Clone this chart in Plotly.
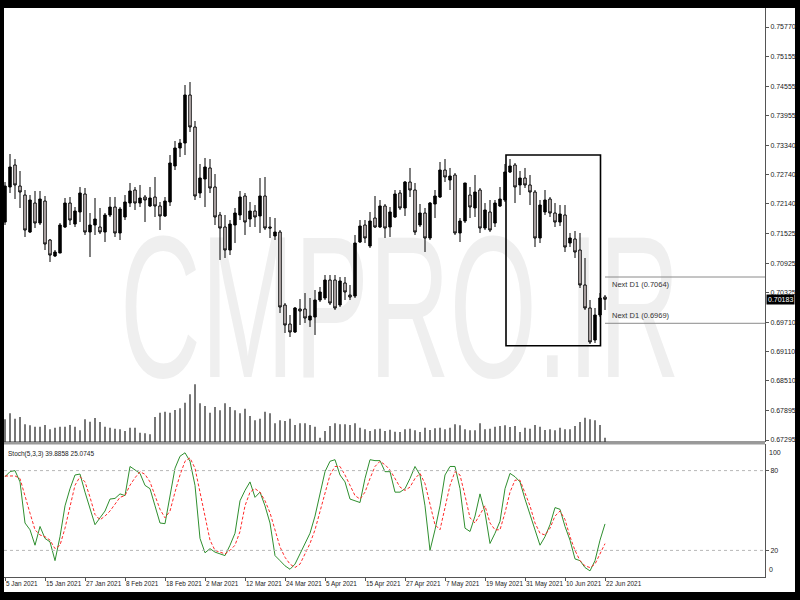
import plotly.graph_objects as go

# ---------------- data ----------------
date_labels = ["5 Jan 2021", "15 Jan 2021", "27 Jan 2021", "8 Feb 2021", "18 Feb 2021",
               "2 Mar 2021", "12 Mar 2021", "24 Mar 2021", "5 Apr 2021", "15 Apr 2021",
               "27 Apr 2021", "7 May 2021", "19 May 2021", "31 May 2021", "10 Jun 2021",
               "22 Jun 2021"]
date_label_bars = list(range(0, 121, 8))

opens = [0.71768, 0.72487, 0.72938, 0.72507, 0.72322, 0.71563, 0.72158, 0.71748, 0.72199, 0.71399,
         0.71071, 0.71132, 0.71666, 0.72158, 0.71727, 0.71974, 0.72343, 0.71563, 0.71707, 0.71666,
         0.71563, 0.71912, 0.72076, 0.71543, 0.71871, 0.72158, 0.72425, 0.72158, 0.72281, 0.72097,
         0.72281, 0.72097, 0.71892, 0.72179, 0.72918, 0.73287, 0.73389, 0.74375, 0.73718, 0.72363,
         0.72651, 0.72877, 0.72487, 0.71912, 0.71666, 0.71194, 0.71707, 0.71912, 0.72302, 0.71830,
         0.71994, 0.71892, 0.72302, 0.71666, 0.71481, 0.71563, 0.70065, 0.69675, 0.69511, 0.69983,
         0.69983, 0.69757, 0.69819, 0.70168, 0.70209, 0.70578, 0.70578, 0.70065, 0.70517, 0.70270,
         0.70250, 0.71358, 0.71707, 0.71276, 0.71850, 0.71666, 0.72097, 0.71666, 0.71871, 0.72363,
         0.72056, 0.72589, 0.72425, 0.71707, 0.71953, 0.71440, 0.72138, 0.72281, 0.72835, 0.72630,
         0.72733, 0.71543, 0.71789, 0.72322, 0.72056, 0.72425, 0.71645, 0.71974, 0.71748, 0.72097,
         0.72220, 0.72794, 0.72938, 0.72528, 0.72671, 0.72528, 0.72384, 0.71440, 0.71974, 0.72240,
         0.71953, 0.71768, 0.71912, 0.71337, 0.71420, 0.71194, 0.70476, 0.70004, 0.69347, 0.69860,
         0.70229]
highs = [0.72589, 0.73164, 0.73061, 0.72815, 0.72425, 0.72322, 0.72405, 0.72405, 0.72302, 0.71420,
         0.71194, 0.71748, 0.72261, 0.72281, 0.72076, 0.72487, 0.72466, 0.71953, 0.72261, 0.72056,
         0.71953, 0.72281, 0.72281, 0.72076, 0.72322, 0.72569, 0.72487, 0.72528, 0.72322, 0.72487,
         0.72692, 0.72179, 0.72281, 0.73143, 0.73431, 0.73472, 0.74580, 0.74641, 0.73841, 0.72959,
         0.73082, 0.73061, 0.72753, 0.71974, 0.71912, 0.71809, 0.72056, 0.72405, 0.72363, 0.72179,
         0.72117, 0.72671, 0.72692, 0.71871, 0.71850, 0.71604, 0.70106, 0.69860, 0.70024, 0.70188,
         0.70311, 0.70209, 0.70373, 0.70435, 0.70681, 0.70681, 0.70681, 0.70640, 0.70640, 0.70476,
         0.71502, 0.71809, 0.71809, 0.71974, 0.72302, 0.72220, 0.72138, 0.72076, 0.72425, 0.72425,
         0.72610, 0.72877, 0.72569, 0.72138, 0.72056, 0.72179, 0.72425, 0.73000, 0.73061, 0.72877,
         0.72774, 0.71850, 0.72569, 0.72487, 0.72733, 0.72466, 0.72158, 0.72220, 0.72220, 0.72487,
         0.72959, 0.73061, 0.72979, 0.72815, 0.72877, 0.72733, 0.72425, 0.72220, 0.72425, 0.72281,
         0.72158, 0.72117, 0.72117, 0.71543, 0.71584, 0.71543, 0.71030, 0.70168, 0.70004, 0.70311,
         0.70270]
lows = [0.71707, 0.72363, 0.72240, 0.72056, 0.71461, 0.71543, 0.71645, 0.71707, 0.71194, 0.70948,
        0.71050, 0.71132, 0.71645, 0.71707, 0.71666, 0.71768, 0.71502, 0.71050, 0.71502, 0.71522,
        0.71358, 0.71871, 0.71461, 0.71399, 0.71809, 0.72076, 0.72015, 0.72076, 0.71768, 0.72076,
        0.71871, 0.71604, 0.71871, 0.72097, 0.72835, 0.73102, 0.73143, 0.73615, 0.72220, 0.72261,
        0.72076, 0.72363, 0.71707, 0.70989, 0.71030, 0.71091, 0.71337, 0.71809, 0.71502, 0.71666,
        0.71666, 0.71543, 0.71604, 0.71440, 0.71399, 0.69901, 0.69491, 0.69408, 0.69491, 0.69655,
        0.69696, 0.69614, 0.69450, 0.70127, 0.70168, 0.70065, 0.69963, 0.70024, 0.70168, 0.70168,
        0.70209, 0.71337, 0.71337, 0.71235, 0.71645, 0.71645, 0.71440, 0.71461, 0.71850, 0.72015,
        0.71892, 0.72281, 0.71502, 0.71666, 0.71153, 0.71399, 0.71850, 0.72261, 0.72589, 0.72425,
        0.71502, 0.71358, 0.71748, 0.71850, 0.71871, 0.71543, 0.71604, 0.71563, 0.71666, 0.72076,
        0.72179, 0.72774, 0.72158, 0.72322, 0.72466, 0.72117, 0.71255, 0.71337, 0.71912, 0.71871,
        0.71666, 0.71686, 0.71153, 0.71255, 0.71030, 0.70414, 0.69963, 0.69265, 0.69285, 0.69819,
        0.69963]
closes = [0.72507, 0.72897, 0.72528, 0.72384, 0.71604, 0.72220, 0.71748, 0.72240, 0.71317, 0.71091,
          0.71153, 0.71707, 0.72158, 0.71809, 0.71994, 0.72363, 0.71563, 0.71707, 0.71830, 0.71563,
          0.71912, 0.72076, 0.71543, 0.72035, 0.72179, 0.72405, 0.72158, 0.72261, 0.72220, 0.72261,
          0.72097, 0.71892, 0.72199, 0.72979, 0.73287, 0.73389, 0.74375, 0.73718, 0.72302, 0.72671,
          0.72897, 0.72466, 0.71871, 0.71645, 0.71194, 0.71727, 0.71953, 0.72281, 0.71768, 0.71994,
          0.71871, 0.72302, 0.71645, 0.71645, 0.71563, 0.70024, 0.69655, 0.69511, 0.70004, 0.69942,
          0.69798, 0.69839, 0.70168, 0.70332, 0.70578, 0.70106, 0.70004, 0.70558, 0.70332, 0.70229,
          0.71337, 0.71686, 0.71440, 0.71789, 0.71666, 0.72097, 0.71645, 0.71974, 0.72343, 0.72056,
          0.72589, 0.72425, 0.71563, 0.71953, 0.71440, 0.72158, 0.72302, 0.72835, 0.72692, 0.72712,
          0.71543, 0.71789, 0.72569, 0.72076, 0.72384, 0.71645, 0.72015, 0.71604, 0.72158, 0.72240,
          0.72794, 0.72918, 0.72487, 0.72671, 0.72528, 0.72384, 0.71440, 0.72117, 0.72220, 0.71953,
          0.71768, 0.71933, 0.71255, 0.71440, 0.71153, 0.70476, 0.70004, 0.69306, 0.69860, 0.70209,
          0.70183]

volumes = [22.7, 28.7, 23.3, 25, 17.7, 16.7, 15.3, 15.3, 17, 12.7,
           14.3, 15.3, 15.3, 17, 15.3, 11.7, 22.7, 20.3, 24, 20,
           15.3, 14.3, 13.3, 12.7, 11, 14.3, 14.3, 9.3, 8.7, 7.7,
           25, 29.3, 30.3, 29.3, 32, 33.7, 39.3, 47.7, 57.7, 38.7,
           36, 29.3, 35, 31.7, 38.7, 35, 31.7, 28.7, 33.3, 26,
           21.7, 23.3, 30.3, 28.7, 18.7, 21.7, 21, 23.3, 17, 18.7,
           18.7, 17, 15.3, 4.3, 11, 16, 18.7, 17.7, 17.7, 17,
           18.7, 14.3, 12.7, 11, 12.7, 13.3, 11, 12.3, 10.3, 10,
           12.7, 13.3, 11.7, 10, 14.3, 12, 13.7, 14.3, 12.7, 14.3,
           17.7, 16.7, 12.7, 11.7, 11.7, 18.7, 12.7, 13.3, 15.3, 16,
           16.7, 15, 16, 10, 14.3, 13.3, 17, 15.3, 12, 12.7,
           11.7, 14.3, 12.7, 12.7, 16, 20, 24.3, 22.7, 21.7, 17,
           4.3]

stoch_k = [75.4, 79.2, 80, 71.5, 40.6, 35.5, 23.9, 38, 29, 26.4,
           12.3, 30.3, 53.5, 66.4, 76.7, 77.4, 63.8, 50.9, 39.3, 44.5,
           49.6, 58.6, 59.1, 62.5, 61.2, 83.1, 80.5, 77.9, 68.9, 66.4,
           53.5, 40.6, 40.1, 61.2, 81.8, 90.8, 93.4, 87, 68.9, 29,
           18.2, 21.3, 18.7, 17.4, 16.1, 23.9, 32.9, 57.3, 65.1, 71.5,
           59.9, 63.8, 53.5, 40.6, 16.1, 12.3, 8.4, 5.8, 9.7, 17.4,
           25.2, 32.9, 45.8, 63.8, 79.2, 87, 88.2, 76.7, 71.5, 58.6,
           57.3, 56, 74.1, 88.2, 87.5, 87.5, 79.2, 79.2, 63.8, 63.8,
           66.4, 74.1, 83.1, 76.7, 53.5, 20, 35.5, 53.5, 76.7, 83.1,
           83.1, 66.4, 36.7, 34.2, 45.8, 62.5, 48.3, 25.2, 32.9,
           41.9, 66.4, 77.9, 75.4, 71.5, 58.6, 47, 35.5, 23.9, 30.3,
           39.3, 52.2, 50.9, 38, 27.7, 13.6, 12.3, 7.1, 4.6,
           12.3, 27.7, 39.8858]
stoch_d = [75.9, 76, 76, 74, 60, 48, 35.5, 31.6, 30.3, 27.7,
           21.3, 23.9, 36.7, 53.5, 69, 75.4, 71.5, 60, 47, 43,
           45.8, 49.6, 54.8, 59.9, 61.2, 69, 74.6, 79.2, 77.2, 71.5,
           61.2, 50.9, 44.5, 49.6, 63.8, 76.7, 87, 89.5, 81.8, 63.8,
           43.2, 27.7, 20, 18.7, 17.4, 20, 23.9, 34.2, 53.5, 63.8,
           66.4, 63.8, 57.3, 48.3, 35.5, 22.6, 14.8, 9.7, 7.1, 9.7,
           17.4, 25.2, 35.5, 49.6, 63.8, 76.7, 83.1, 83.1, 76.7, 68.9,
           61.2, 58.6, 63.8, 74.1, 83.1, 87, 84.4, 80.5, 74.1, 67.6,
           65.1, 67.6, 74.1, 77.9, 70.2, 53.5, 39.3, 35.5, 53.5, 68.9,
           79.2, 76.7, 61.2, 44.5, 40.6, 47, 53.5, 40.6, 35.5,
           35.5, 48.3, 63.8, 72.8, 72.8, 63.8, 53.5, 40.6, 32.9, 31.6,
           36.7, 45.8, 49.6, 43.2, 30.3, 20, 12.3, 8.4, 7.1,
           9.7, 17.4, 25.0745]

price_ticks = [0.75770, 0.75155, 0.74555, 0.73955, 0.73340, 0.72740, 0.72140, 0.71525,
               0.70925, 0.70325, 0.69710, 0.69110, 0.68510, 0.67895, 0.67295]
next_d1_levels = [0.7064, 0.6969]
current_price = 0.70183
box_bars = (100.2, 119.1)
box_prices = (0.73144, 0.69228)
stoch_levels = [80, 20]
watermark = "CMPRO.IR"

# ---------------- figure ----------------
bars = list(range(len(opens)))
FONT = "Liberation Sans, Arial, sans-serif"
TXT = "#1a1a1a"
AXC = "#555555"

fig = go.Figure()

# volumes
fig.add_trace(go.Bar(x=bars, y=volumes, width=0.28, marker=dict(color="#777777", line=dict(width=0)),
                     xaxis="x", yaxis="y3", hoverinfo="skip"))

# candles
fig.add_trace(go.Candlestick(
    x=bars, open=opens, high=highs, low=lows, close=closes,
    increasing=dict(line=dict(color="black", width=1), fillcolor="black"),
    decreasing=dict(line=dict(color="black", width=1), fillcolor="#e6dada"),
    whiskerwidth=0, xaxis="x", yaxis="y", hoverinfo="skip"))

# stochastic
fig.add_trace(go.Scatter(x=bars, y=stoch_k, mode="lines", line=dict(color="#2f8f2f", width=1),
                         xaxis="x", yaxis="y2", hoverinfo="skip"))
fig.add_trace(go.Scatter(x=bars, y=stoch_d, mode="lines",
                         line=dict(color="#ff2a2a", width=1, dash="3px,2px"),
                         xaxis="x", yaxis="y2", hoverinfo="skip"))

W_PLOT = 761.0
H_PLOT = 569.0
main_bottom = (577 - 442) / H_PLOT
stoch_top = (577 - 444) / H_PLOT

shapes = [
    # white page inside the black frame
    dict(type="rect", xref="paper", yref="paper", x0=0, x1=(795 - 4) / W_PLOT,
         y0=-(592 - 577) / H_PLOT, y1=1, fillcolor="white", line=dict(width=0), layer="below"),
    # watermark (below the candles)
    dict(type="rect", xref="x", yref="y", x0=20, x1=138, y0=0.6923, y1=0.7123,
         fillcolor="rgba(0,0,0,0)", line=dict(width=0), layer="below",
         label=dict(text=watermark, textposition="middle center",
                    font=dict(family=FONT, size=112, color="#efefef"))),
    # panel separator
    dict(type="line", xref="paper", yref="paper", x0=0, x1=1, y0=main_bottom, y1=main_bottom,
         line=dict(color="#333333", width=1)),
    dict(type="line", xref="paper", yref="paper", x0=0, x1=1, y0=stoch_top + 0.001, y1=stoch_top + 0.001,
         line=dict(color="#9a9a9a", width=2)),
    # rectangle drawing
    dict(type="rect", xref="x", yref="y", x0=box_bars[0], x1=box_bars[1],
         y0=box_prices[1], y1=box_prices[0], line=dict(color="black", width=1.6),
         fillcolor="rgba(0,0,0,0)"),
]
for lv in next_d1_levels:
    shapes.append(dict(type="line", xref="x", yref="y", x0=120, x1=152, y0=lv, y1=lv,
                       line=dict(color="#8a8a8a", width=1)))
for lv in stoch_levels:
    shapes.append(dict(type="line", xref="paper", yref="y2", x0=0, x1=1, y0=lv, y1=lv,
                       line=dict(color="#b8b8b8", width=1, dash="dot")))

annotations = [
    dict(xref="x", yref="y", x=121, y=next_d1_levels[0], text="Next D1 (0.7064)",
         xanchor="left", yanchor="top", yshift=-1, showarrow=False,
         font=dict(family=FONT, size=7.5, color="#333333")),
    dict(xref="x", yref="y", x=121, y=next_d1_levels[1], text="Next D1 (0.6969)",
         xanchor="left", yanchor="bottom", yshift=1, showarrow=False,
         font=dict(family=FONT, size=7.5, color="#333333")),
    dict(xref="paper", yref="y", x=1, y=current_price, text="%.5f" % current_price,
         xanchor="left", yanchor="middle", xshift=1, showarrow=False, bgcolor="black",
         borderpad=1, font=dict(family=FONT, size=7, color="white")),
    dict(xref="paper", yref="y2", x=1, y=100, text="100", xanchor="left", yanchor="top",
         xshift=2, yshift=-3, showarrow=False, font=dict(family=FONT, size=7, color=TXT)),
    dict(xref="paper", yref="y2", x=1, y=0, text="0", xanchor="left", yanchor="bottom",
         xshift=2, yshift=2, showarrow=False, font=dict(family=FONT, size=7, color=TXT)),
    dict(xref="paper", yref="y2", x=0, y=100, text="Stoch(5,3,3) 39.8858 25.0745",
         xanchor="left", yanchor="top", xshift=2, yshift=-4, showarrow=False,
         font=dict(family=FONT, size=6.5, color=TXT)),
]

fig.update_layout(
    width=800, height=600,
    margin=dict(l=4, r=35, t=8, b=23, pad=0),
    paper_bgcolor="black", plot_bgcolor="white",
    showlegend=False,
    font=dict(family=FONT, size=7, color=TXT),
    xaxis=dict(domain=[0, 1], range=[-0.2, 152], anchor="y2",
               tickmode="array", tickvals=date_label_bars, ticktext=date_labels,
               ticks="outside", ticklen=3, tickcolor=AXC, ticklabelposition="outside right",
               tickangle=0, tickfont=dict(family=FONT, size=6.4, color=TXT),
               showline=True, linecolor=AXC, linewidth=1, showgrid=False, zeroline=False,
               rangeslider=dict(visible=False), fixedrange=True),
    yaxis=dict(domain=[main_bottom, 1], range=[0.67254, 0.76160], side="right", anchor="x",
               tickmode="array", tickvals=price_ticks, ticktext=["%.5f" % v for v in price_ticks],
               ticks="outside", ticklen=3, tickcolor=AXC, tickfont=dict(family=FONT, size=7, color=TXT),
               showline=True, linecolor=AXC, linewidth=1, showgrid=False, zeroline=False),
    yaxis3=dict(domain=[main_bottom, 1], range=[0, 434], overlaying="y", visible=False),
    yaxis2=dict(domain=[0, stoch_top], range=[0, 100], side="right", anchor="x",
                tickmode="array", tickvals=stoch_levels, ticktext=[str(v) for v in stoch_levels],
                ticks="outside", ticklen=3, tickcolor=AXC, tickfont=dict(family=FONT, size=7, color=TXT),
                showline=True, linecolor=AXC, linewidth=1, showgrid=False, zeroline=False),
    shapes=shapes,
    annotations=annotations,
)

post_js = """
document.body.style.margin = '0px';
document.body.style.padding = '0px';
document.body.style.background = 'black';
var gd = document.getElementById('{plot_id}');
var texts = gd.querySelectorAll('text');
for (var i = 0; i < texts.length; i++) {
  var t = texts[i];
  if (t.textContent === 'CMPRO.IR') {
    var bb = t.getBBox();
    var cx = bb.x + bb.width / 2, cy = bb.y + bb.height / 2;
    var old = t.getAttribute('transform') || '';
    t.setAttribute('transform', 'translate(' + cx + ',' + cy + ') scale(1,1.8) translate(' + (-cx) + ',' + (-cy) + ') ' + old);
  }
}
"""

fig.write_html("out.html", post_script=post_js, config={"displayModeBar": False})
